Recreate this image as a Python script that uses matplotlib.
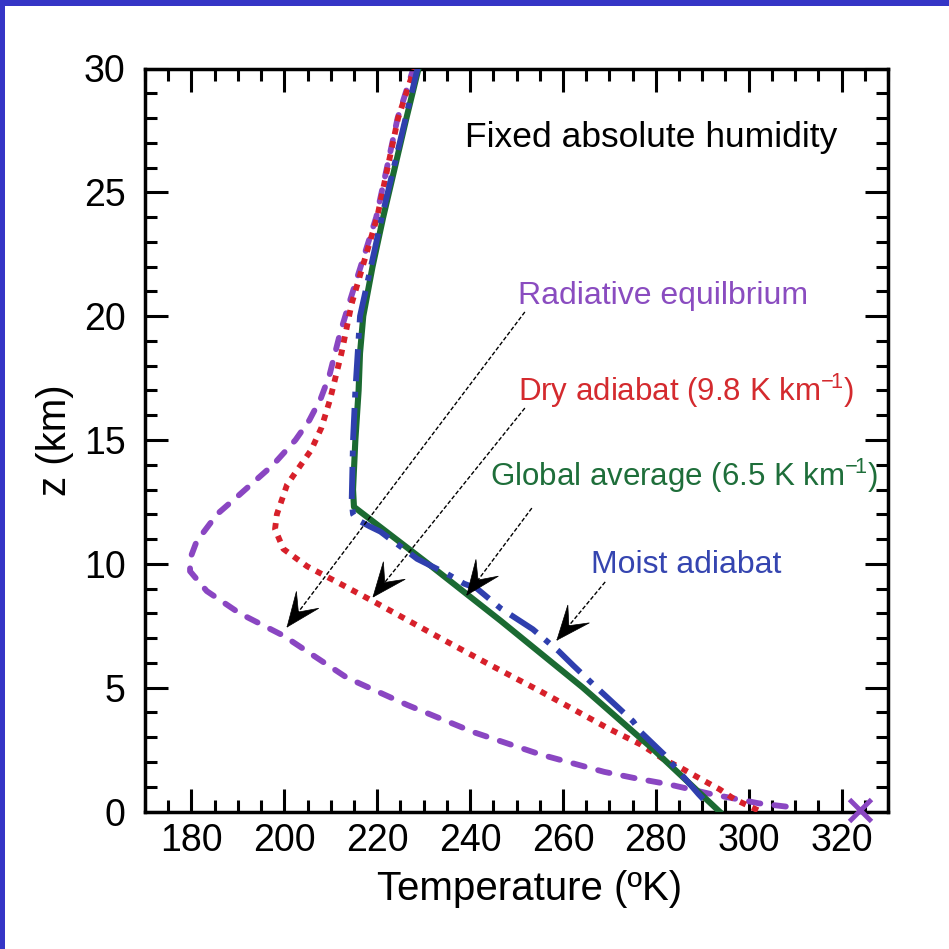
import numpy as np
import matplotlib
matplotlib.use('Agg')
import matplotlib.pyplot as plt
from matplotlib.patches import Polygon, Rectangle
from matplotlib.ticker import MultipleLocator

plt.rcParams['font.family'] = ['Liberation Sans', 'DejaVu Sans']
plt.rcParams['mathtext.fontset'] = 'custom'
plt.rcParams['mathtext.rm'] = 'Liberation Sans'
plt.rcParams['mathtext.it'] = 'Liberation Sans:italic'
plt.rcParams['mathtext.bf'] = 'Liberation Sans:bold'

# Temperature profiles (z in km, T in K)
z_rad = [0.2, 0.33, 0.7, 1.1, 1.35, 1.6, 2.3, 3.2, 4.3, 5.4, 7.1, 8.0, 8.9, 9.7,
         10.2, 10.9, 12.0, 12.8, 14.0, 15.0, 15.8, 16.7, 17.6, 19.3, 20.3, 21.5,
         24.0, 28.0, 30.0]
T_rad = [308.0, 302.2, 292.0, 282.7, 275.4, 268.9, 255.2, 240.8, 226.5, 213.5, 199.8,
         190.4, 183.3, 179.7, 179.7, 181.1, 185.5, 190.4, 197.6, 202.4, 205.4, 207.9,
         209.7, 212.0, 213.6, 215.6, 219.8, 224.4, 227.8]

z_dry = [0.05, 0.5, 0.9, 1.3, 1.75, 2.1, 2.7, 3.1, 3.37, 4.85, 5.9, 7.0, 8.4, 9.2,
         9.9, 10.6, 11.4, 12.0, 13.2, 13.9, 14.6, 15.5, 16.6, 18.5, 20.5, 24.0, 28.0, 30.0]
T_dry = [302.0, 296.9, 293.7, 289.8, 285.5, 281.8, 276.8, 272.5, 269.6, 255.2, 244.5,
         233.6, 220.0, 212.0, 204.9, 199.8, 198.0, 198.4, 200.6, 203.2, 205.8, 208.0,
         209.8, 212.3, 214.5, 220.0, 224.5, 228.0]

z_glob = [0.0, 2.5, 5.0, 7.7, 10.0, 12.3, 13.0, 15.0, 17.0, 18.5, 20.0, 22.0, 24.0,
          26.0, 28.0, 30.0]
T_glob = [293.7, 279.5, 264.3, 246.6, 231.0, 215.0, 214.8, 215.3, 216.0, 216.3, 217.0,
          219.0, 221.3, 223.8, 226.3, 228.9]

z_moist = [0.5, 0.7, 2.3, 3.2, 3.64, 4.65, 5.1, 5.9, 6.47, 7.36, 8.2, 9.0, 9.2, 9.6,
           10.2, 10.5, 11.0, 11.3, 11.5, 11.8, 12.0, 12.5, 15.0, 17.0, 20.0, 24.0, 30.0]
T_moist = [290.2, 289.2, 281.8, 276.8, 275.1, 269.3, 266.7, 262.2, 259.1, 253.5, 246.6,
           241.5, 238.7, 235.0, 228.6, 226.5, 222.8, 220.7, 218.5, 215.5, 214.8, 214.5,
           214.8, 215.3, 216.3, 221.0, 228.7]

# label text, position (T, z of baseline) and colour
labels = ['Fixed absolute humidity', 'Radiative equilbrium',
          r'Dry adiabat (9.8 K km$^{-\!1}$)', r'Global average (6.5 K km$^{-\!1}$)',
          'Moist adiabat']
label_T = [239.0, 250.3, 250.3, 244.3, 266.0]
label_z = [26.85, 20.5, 16.58, 13.14, 9.64]
label_size = [25.5, 23, 22.5, 22.5, 23]

# arrows: start (T, z) -> tip (T, z)
arrow_start = [(251.8, 20.17), (251.8, 16.29), (253.3, 12.25), (269.1, 9.27)]
arrow_tip = [(200.6, 7.45), (219.1, 8.66), (239.3, 8.74), (258.7, 6.92)]

purple = '#8a46c2'
red = '#d7202a'
green = '#1b6a32'
blue = '#2f3fae'
label_colors = ['black', '#8a4cc0', '#d42a2e', '#1e6e3a', '#3545b0']

fig = plt.figure(figsize=(9.49, 9.49), dpi=100)
ax = fig.add_axes([145 / 949, 1 - 811.5 / 949, 743 / 949, 743 / 949])
ax.set_xlim(170, 330)
ax.set_ylim(0, 30)

ax.plot(T_rad, z_rad, color=purple, lw=4.2, ls=(0, (2.0, 2.4)),
        dash_capstyle='round', zorder=2)
ax.plot(T_dry, z_dry, color=red, lw=4.2, ls=(0, (1.1, 1.2)), zorder=3)
ax.plot(T_glob, z_glob, color=green, lw=4.4, zorder=4)
ax.plot(T_moist, z_moist, color=blue, lw=4.2, ls=(0, (5.5, 1.8, 1, 1.8)), zorder=5)
ax.plot(324, 0.05, 'x', color=purple, ms=16, mew=3.5, clip_on=False, zorder=6)

for txt, tx, tz, c, fs in zip(labels, label_T, label_z, label_colors, label_size):
    ax.text(tx, tz, txt, color=c, fontsize=fs, ha='left', va='baseline')

# arrows: thin dashed shaft + stealth head built in pixel space
to_px = ax.transData.transform
to_data = ax.transData.inverted().transform
L, W = 34.0, 14.0
for (s, t) in zip(arrow_start, arrow_tip):
    ax.plot([s[0], t[0]], [s[1], t[1]], color='black', lw=1.0,
            ls=(0, (3, 1.5)), zorder=7)
    ps, pt = to_px(s), to_px(t)
    u = (pt - ps) / np.hypot(*(pt - ps))
    n = np.array([-u[1], u[0]])
    head = np.array([pt, pt - L * u + W * n, pt - 0.55 * L * u, pt - L * u - W * n])
    ax.add_patch(Polygon(to_data(head), closed=True, fc='black', ec='black',
                         lw=0.5, zorder=8))

ax.xaxis.set_major_locator(MultipleLocator(20))
ax.xaxis.set_minor_locator(MultipleLocator(5))
ax.yaxis.set_major_locator(MultipleLocator(5))
ax.yaxis.set_minor_locator(MultipleLocator(1))
ax.tick_params(which='both', direction='in', top=True, right=True, width=2.2)
ax.tick_params(which='major', length=16.5)
ax.tick_params(which='minor', length=8.5)
ax.tick_params(axis='x', labelsize=27, pad=8)
ax.tick_params(axis='y', labelsize=27, pad=14)
for sp in ax.spines.values():
    sp.set_linewidth(2.5)

ax.set_xlabel('Temperature (ºK)', fontsize=29, labelpad=8, x=0.518)
ax.set_ylabel('z (km)', fontsize=29, labelpad=7)

# blue frame strips (top and left edges)
fig.patches.append(Rectangle((0, 1 - 6 / 949), 1, 6 / 949, transform=fig.transFigure,
                             fc='#3535c6', ec='none', zorder=10))
fig.patches.append(Rectangle((0, 0), 5 / 949, 1, transform=fig.transFigure,
                             fc='#3535c6', ec='none', zorder=10))

fig.savefig('out.png', dpi=100)
